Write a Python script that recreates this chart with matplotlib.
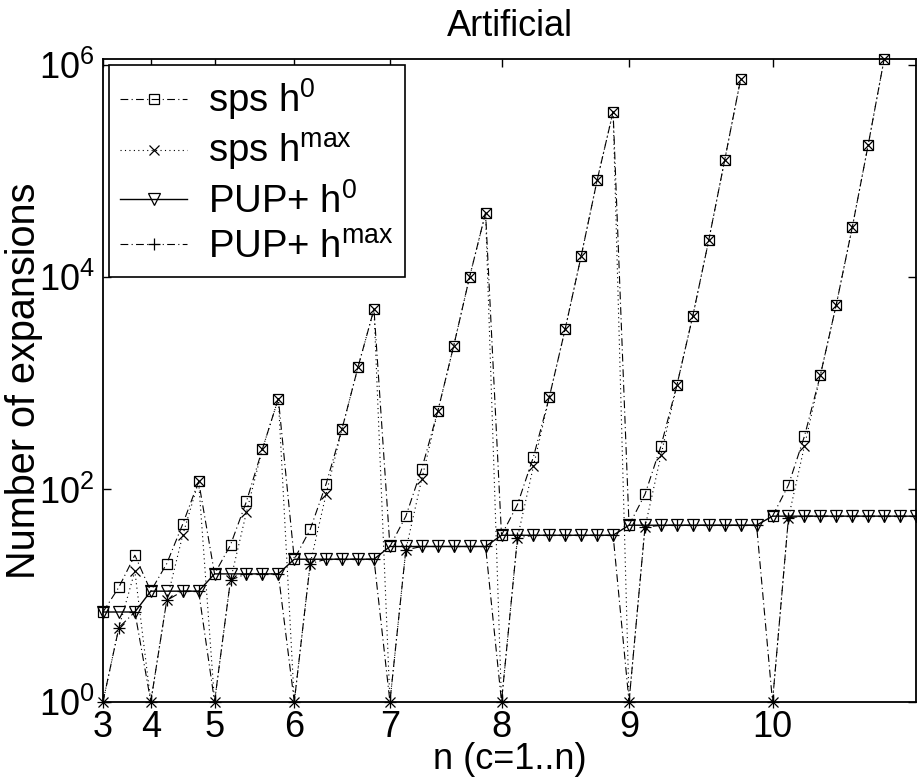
import numpy as np
import matplotlib
matplotlib.use("Agg")
import matplotlib.pyplot as plt
from matplotlib.ticker import NullLocator

plt.rcParams["font.family"] = ["Liberation Sans", "DejaVu Sans"]
plt.rcParams["mathtext.default"] = "regular"

# problem size n; for each n there are runs c = 1..n
sizes = [3, 4, 5, 6, 7, 8, 9, 10]

# number of expansions per (n, c), None = no result
sps_h0 = [
    [7, 12, 24],
    [11, 20, 47, 119],
    [16, 30, 77, 240, 717],
    [22, 42, 113, 374, 1425, 4990],
    [29, 56, 157, 544, 2250, 10070, 40400],
    [37, 72, 202, 743, 3280, 15900, 82200, 362000],
    [46, 90, 256, 957, 4310, 22300, 127000, 733000, None],
    [56, 110, 316, 1190, 5520, 29400, 176000, 1130000, None, None],
]
sps_hmax = [
    [1, 5, 17],
    [1, 9, 37, 119],
    [1, 14, 61, 240, 717],
    [1, 20, 91, 374, 1425, 4990],
    [1, 27, 126, 544, 2250, 10070, 40400],
    [1, 35, 165, 743, 3280, 15900, 82200, 362000],
    [1, 44, 209, 957, 4310, 22300, 127000, 733000, None],
    [1, 54, 256, 1190, 5520, 29400, 176000, 1130000, None, None],
]
pup_h0 = [
    [7, 7, 7],
    [11, 11, 11, 11],
    [16, 16, 16, 16, 16],
    [22, 22, 22, 22, 22, 22],
    [29, 29, 29, 29, 29, 29, 29],
    [37, 37, 37, 37, 37, 37, 37, 37],
    [46, 46, 46, 46, 46, 46, 46, 46, 46],
    [56, 56, 56, 56, 56, 56, 56, 56, 56, 56],
]
pup_hmax = [
    [1, 5, 7],
    [1, 9, 11, 11],
    [1, 14, 16, 16, 16],
    [1, 20, 22, 22, 22, 22],
    [1, 27, 29, 29, 29, 29, 29],
    [1, 35, 37, 37, 37, 37, 37, 37],
    [1, 44, 46, 46, 46, 46, 46, 46, 46],
    [1, 54, 56, 56, 56, 56, 56, 56, 56, 56],
]


def flat(rows):
    return np.array([np.nan if v is None else v for r in rows for v in r], dtype=float)


# every run gets its own slot on the x axis, ticks mark the first run of each n
starts = np.cumsum([0] + sizes[:-1])
x = np.arange(sum(sizes))

fig = plt.figure(figsize=(9.17, 7.8), dpi=100)
ax = fig.add_axes([0.1123, 0.1004, 0.8866, 0.8236])

dashdot = (0, (7, 3, 1, 3))
ax.plot(x, flat(sps_h0), color="k", lw=0.8, ls=dashdot, clip_on=False,
        marker="s", ms=7, mfc="none", mec="k", mew=0.9, label="sps h$^0$")
ax.plot(x, flat(sps_hmax), color="k", lw=0.8, ls=(0, (1, 3)), clip_on=False,
        marker="x", ms=6.5, mec="k", mew=0.9, label="sps h$^{max}$")
ax.plot(x, flat(pup_h0), color="k", lw=1.0, ls="-", clip_on=False,
        marker="v", ms=9, mfc="none", mec="k", mew=0.9, label="PUP+ h$^0$")
ax.plot(x, flat(pup_hmax), color="k", lw=0.8, ls=dashdot, clip_on=False,
        marker="+", ms=8, mec="k", mew=0.9, label="PUP+ h$^{max}$")

ax.set_yscale("log")
ax.set_xlim(0, x[-1])
ax.set_ylim(1, 1130000)
ax.set_yticks([1, 1e2, 1e4, 1e6])
ax.set_yticklabels(["$10^0$", "$10^2$", "$10^4$", "$10^6$"])
ax.yaxis.set_minor_locator(NullLocator())
ax.set_xticks(starts)
ax.set_xticklabels([str(n) for n in sizes])

ax.tick_params(which="both", direction="in", top=True, right=True,
               length=6, width=1, labelsize=26, pad=6)
for s in ax.spines.values():
    s.set_linewidth(1.3)

ax.set_xlabel("n (c=1..n)", fontsize=26, labelpad=-2)
ax.set_ylabel("Number of expansions", fontsize=28.5, labelpad=-3)
ax.set_title("Artificial", fontsize=26, pad=17)

leg = ax.legend(loc="upper left", fontsize=27.5, handlelength=1.75,
                handletextpad=0.55, borderpad=0.3, labelspacing=0.24,
                borderaxespad=0.15, fancybox=False, framealpha=1)
leg.get_frame().set_edgecolor("k")
leg.get_frame().set_linewidth(1.2)

fig.savefig("out.png", dpi=100)
